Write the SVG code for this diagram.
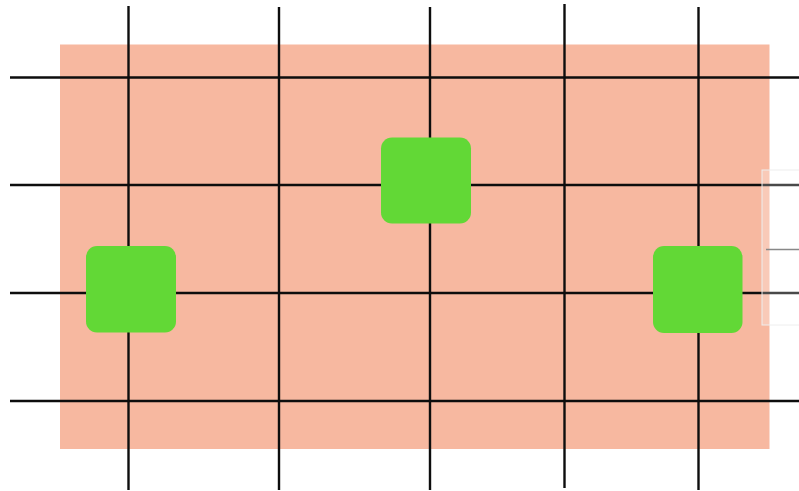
<svg xmlns="http://www.w3.org/2000/svg" width="799" height="491" viewBox="0 0 799 491">
<style>
.grid line{stroke:#0d0d0d;stroke-width:2.4;stroke-linecap:butt}
.node rect{fill:#62D836;}
</style>
<rect width="799" height="491" fill="#ffffff"/>
<rect id="field" x="60" y="44.5" width="709.5" height="404.5" fill="#F7B8A0"/>
<g id="connectors" class="grid">
<line x1="10" y1="77.5" x2="799" y2="77.5"/>
<line x1="10" y1="185" x2="799" y2="185"/>
<line x1="10" y1="293" x2="799" y2="293"/>
<line x1="10" y1="401" x2="799" y2="401"/>
<line x1="128.5" y1="6" x2="128.5" y2="490"/>
<line x1="279" y1="7" x2="279" y2="490"/>
<line x1="430" y1="7" x2="430" y2="490"/>
<line x1="564.5" y1="4" x2="564.5" y2="488"/>
<line x1="698.5" y1="7" x2="698.5" y2="490"/>
</g>
<rect x="762" y="170" width="40" height="155" fill="#ffffff" fill-opacity="0.25" stroke="#eeeeee" stroke-width="1"/>
<line x1="766" y1="249.5" x2="799" y2="249.5" stroke="#888" stroke-width="1.5"/>
<g id="node1" class="node"><rect x="86" y="246" width="90" height="86.5" rx="11"/></g>
<g id="node2" class="node"><rect x="381" y="137.5" width="90" height="86" rx="11"/></g>
<g id="node3" class="node"><rect x="653" y="246" width="89.5" height="87" rx="11"/></g>
</svg>
